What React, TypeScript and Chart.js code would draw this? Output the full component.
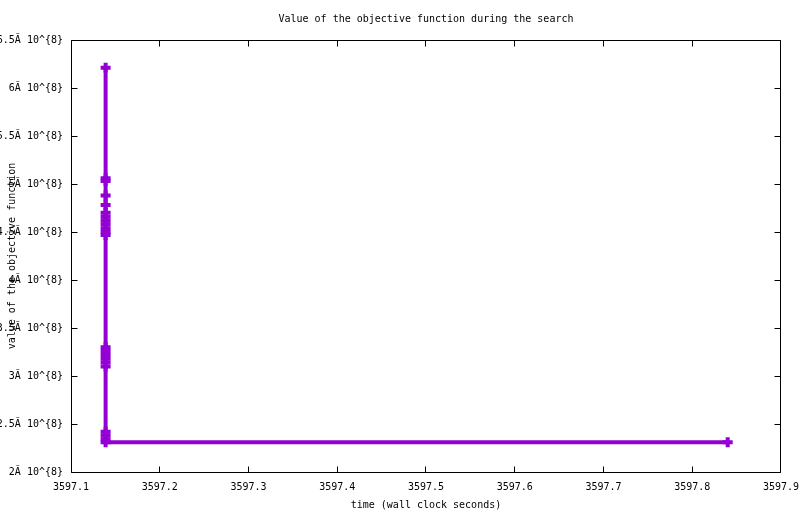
import React, { useEffect, useRef } from "react";
import { Chart, registerables } from "chart.js";

Chart.register(...registerables);

const FONT = "'DejaVu Sans Mono', monospace";

const times = [
  3597.139, 3597.139, 3597.139, 3597.139, 3597.139, 3597.139, 3597.139,
  3597.139, 3597.139, 3597.139, 3597.139, 3597.139, 3597.139, 3597.139,
  3597.139, 3597.139, 3597.139, 3597.139, 3597.139, 3597.139, 3597.139,
  3597.139, 3597.84,
];
const objectiveValues = [
  6.21e8, 5.06e8, 5.03e8, 4.88e8, 4.78e8, 4.7e8, 4.66e8, 4.62e8, 4.58e8,
  4.54e8, 4.5e8, 4.47e8, 3.3e8, 3.26e8, 3.22e8, 3.18e8, 3.14e8, 3.1e8,
  2.42e8, 2.38e8, 2.34e8, 2.31e8, 2.31e8,
];

const xTickValues = [3597.1, 3597.2, 3597.3, 3597.4, 3597.5, 3597.6, 3597.7, 3597.8, 3597.9];
const xTickLabels = ["3597.1", "3597.2", "3597.3", "3597.4", "3597.5", "3597.6", "3597.7", "3597.8", "3597.9"];
const yTickValues = [2e8, 2.5e8, 3e8, 3.5e8, 4e8, 4.5e8, 5e8, 5.5e8, 6e8, 6.5e8];
const yTickLabels = [
  "2Ă 10^{8}", "2.5Ă 10^{8}", "3Ă 10^{8}", "3.5Ă 10^{8}", "4Ă 10^{8}",
  "4.5Ă 10^{8}", "5Ă 10^{8}", "5.5Ă 10^{8}", "6Ă 10^{8}", "6.5Ă 10^{8}",
];

const titleText = "Value of the objective function during the search";
const xTitle = "time (wall clock seconds)";
const yTitle = "value of the objective function";

const framePlugin = {
  id: "gnuplotFrame",
  beforeDatasetsDraw(chart: any) {
    const { ctx, chartArea, scales } = chart;
    const l = Math.floor(chartArea.left) + 0.5;
    const r = Math.floor(chartArea.right) + 0.5;
    const t = Math.floor(chartArea.top) + 0.5;
    const b = Math.floor(chartArea.bottom) + 0.5;
    const tl = 6;
    ctx.save();
    ctx.strokeStyle = "#000";
    ctx.lineWidth = 1;
    ctx.beginPath();
    ctx.rect(l, t, r - l, b - t);
    scales.x.ticks.forEach((tk: any) => {
      const px = Math.floor(scales.x.getPixelForValue(tk.value)) + 0.5;
      ctx.moveTo(px, b);
      ctx.lineTo(px, b - tl);
      ctx.moveTo(px, t);
      ctx.lineTo(px, t + tl);
    });
    scales.y.ticks.forEach((tk: any) => {
      const py = Math.floor(scales.y.getPixelForValue(tk.value)) + 0.5;
      ctx.moveTo(l, py);
      ctx.lineTo(l + tl, py);
      ctx.moveTo(r, py);
      ctx.lineTo(r - tl, py);
    });
    ctx.stroke();
    ctx.restore();
  },
};

export default function App() {
  const ref = useRef<HTMLCanvasElement | null>(null);

  useEffect(() => {
    if (!ref.current) return;
    const data = times.map((t, i) => ({ x: t, y: objectiveValues[i] }));
    const chart = new Chart(ref.current, {
      type: "line",
      data: {
        datasets: [
          {
            data,
            borderColor: "#9400D3",
            backgroundColor: "#9400D3",
            borderWidth: 4,
            pointStyle: "cross",
            pointRadius: 5,
            pointBorderWidth: 4,
            pointBorderColor: "#9400D3",
            pointBackgroundColor: "#9400D3",
            tension: 0,
            fill: false,
          },
        ],
      },
      options: {
        responsive: false,
        animation: false,
        layout: { padding: { left: 0, right: 19, top: 0, bottom: 0 } },
        plugins: {
          legend: { display: false },
          tooltip: { enabled: false },
          title: {
            display: true,
            fullSize: false,
            text: titleText,
            color: "#000",
            font: { family: FONT, size: 10, weight: "normal" },
            padding: { top: 13, bottom: 15 },
          },
        },
        scales: {
          x: {
            type: "linear",
            min: 3597.1,
            max: 3597.9,
            grid: { display: false },
            border: { display: false },
            afterBuildTicks: (s: any) => {
              s.ticks = xTickValues.map((v) => ({ value: v }));
            },
            afterFit: (s: any) => {
              s.height = 42;
            },
            ticks: {
              autoSkip: false,
              maxRotation: 0,
              padding: 1,
              color: "#000",
              font: { family: FONT, size: 10 },
              callback: (_v: any, i: number) => xTickLabels[i],
            },
            title: {
              display: true,
              text: xTitle,
              color: "#000",
              font: { family: FONT, size: 10 },
              padding: { top: 0, bottom: 3 },
            },
          },
          y: {
            type: "linear",
            min: 2e8,
            max: 6.5e8,
            grid: { display: false },
            border: { display: false },
            afterBuildTicks: (s: any) => {
              s.ticks = yTickValues.map((v) => ({ value: v }));
            },
            afterFit: (s: any) => {
              s.width = 91;
            },
            ticks: {
              autoSkip: false,
              padding: 0,
              color: "#000",
              font: { family: FONT, size: 10 },
              callback: (_v: any, i: number) => yTickLabels[i],
            },
            title: {
              display: true,
              text: yTitle,
              color: "#000",
              font: { family: FONT, size: 10 },
              padding: { top: 26, bottom: 0 },
            },
          },
        },
      },
      plugins: [framePlugin],
    } as any);
    return () => chart.destroy();
  }, []);

  return (
    <div style={{ position: "absolute", left: -20, top: 0, width: 820, height: 514, background: "#fff" }}>
      <canvas ref={ref} width={820} height={514} style={{ display: "block" }} />
    </div>
  );
}
